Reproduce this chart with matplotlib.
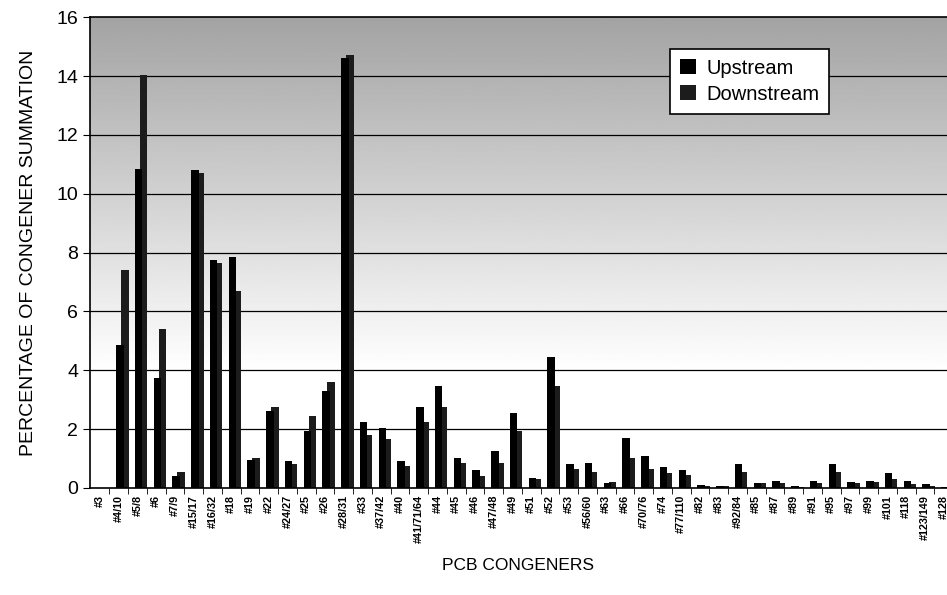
import numpy as np
import matplotlib.pyplot as plt
from matplotlib.patches import Patch

plt.rcParams['font.family'] = ['Liberation Sans', 'DejaVu Sans']

congeners = ["#3", "#4/10", "#5/8", "#6", "#7/9", "#15/17", "#16/32", "#18", "#19", "#22",
             "#24/27", "#25", "#26", "#28/31", "#33", "#37/42", "#40", "#41/71/64", "#44", "#45",
             "#46", "#47/48", "#49", "#51", "#52", "#53", "#56/60", "#63", "#66", "#70/76",
             "#74", "#77/110", "#82", "#83", "#92/84", "#85", "#87", "#89", "#91", "#95",
             "#97", "#99", "#101", "#118", "#123/149", "#128"]

upstream = [0.0, 4.85, 10.85, 3.75, 0.4, 10.8, 7.75, 7.85, 0.95, 2.6,
            0.9, 1.95, 3.3, 14.6, 2.25, 2.05, 0.9, 2.75, 3.45, 1.0,
            0.6, 1.25, 2.55, 0.35, 4.45, 0.8, 0.85, 0.15, 1.7, 1.1,
            0.7, 0.6, 0.1, 0.08, 0.8, 0.15, 0.25, 0.05, 0.25, 0.8,
            0.2, 0.25, 0.5, 0.25, 0.12, 0.03]

downstream = [0.0, 7.4, 14.05, 5.4, 0.55, 10.7, 7.65, 6.7, 1.0, 2.75,
              0.8, 2.45, 3.6, 14.7, 1.8, 1.65, 0.75, 2.25, 2.75, 0.85,
              0.4, 0.85, 1.95, 0.3, 3.45, 0.65, 0.55, 0.2, 1.0, 0.65,
              0.5, 0.45, 0.08, 0.08, 0.55, 0.15, 0.18, 0.03, 0.18, 0.55,
              0.15, 0.2, 0.3, 0.12, 0.05, 0.02]

fig = plt.figure(figsize=(9.47, 5.95), dpi=100)
ax = fig.add_axes([0.095, 0.18, 0.905, 0.791])

x = np.arange(len(congeners))
xmin, xmax = -0.53, 45.17

# stippled gradient background: grey at top fading to white around 4
yy = np.linspace(0, 16, 200)
shade = np.clip(1.0 - (yy - 4) / 12 * 0.36, 0.64, 1.0)
ax.imshow(shade[:, None], extent=[xmin, xmax, 0, 16], origin='lower',
          cmap='gray', vmin=0, vmax=1, aspect='auto', zorder=0)

for g in range(2, 16, 2):
    ax.axhline(g, color='black', lw=0.9, zorder=1)

w = 0.4
ax.bar(x + 0.06, upstream, width=w, color='black', zorder=3)
ax.bar(x + 0.33, downstream, width=w, color='#1c1c1c', zorder=2)

ax.set_xlim(xmin, xmax)
ax.set_ylim(0, 16)
ax.set_yticks(range(0, 17, 2))
ax.tick_params(axis='y', labelsize=14, length=5, direction='out')
ax.set_xticks(x)
ax.set_xticklabels(congeners, rotation=90, fontsize=7.8, fontweight='bold')
ax.tick_params(axis='x', length=0, pad=5)
ax.set_xticks(x[:-1] + 0.5, minor=True)
ax.tick_params(axis='x', which='minor', length=4, direction='out')

ax.spines['right'].set_visible(False)
for s in ['left', 'bottom', 'top']:
    ax.spines[s].set_linewidth(1.2)

ax.set_ylabel("PERCENTAGE OF CONGENER SUMMATION", fontsize=14, labelpad=14)
ax.text(0.5, -0.165, "PCB CONGENERS", transform=ax.transAxes,
        ha='center', va='center', fontsize=12.5)

handles = [Patch(facecolor='black', label='Upstream'),
           Patch(facecolor='#1c1c1c', label='Downstream')]
leg = ax.legend(handles=handles, loc='upper left', bbox_to_anchor=(0.665, 0.955),
                fontsize=14.5, frameon=True, fancybox=False, edgecolor='black',
                framealpha=1, handlelength=0.8, handleheight=0.8,
                borderpad=0.5, labelspacing=0.35, handletextpad=0.5)
leg.get_frame().set_linewidth(1.2)

fig.savefig("out.png", dpi=100)
